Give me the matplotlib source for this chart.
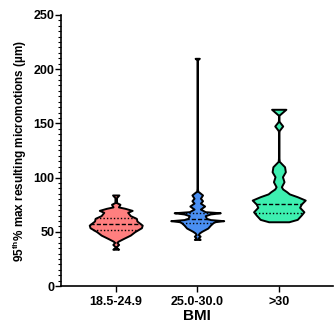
import matplotlib
matplotlib.use("Agg")
import matplotlib.pyplot as plt
import numpy as np

plt.rcParams['font.family'] = ['Liberation Sans', 'DejaVu Sans']
plt.rcParams['font.weight'] = 'bold'
plt.rcParams['mathtext.fontset'] = 'custom'
plt.rcParams['mathtext.rm'] = 'Liberation Sans:bold'
plt.rcParams['mathtext.bf'] = 'Liberation Sans:bold'

# DATA ------------------------------------------------------------------
groups = ['18.5-24.9', '25.0-30.0', '>30']
colors = ['#FF7F7F', '#4A8FF2', '#3DEFB0']

# violin outlines: micromotion level (µm) and relative half width
red_y = [34, 35.2, 36.5, 38.4, 40.3, 41.5, 44, 47, 50.2, 53.8, 56.2, 60, 62.4, 65, 68, 69.8,
         71.7, 73, 75.4, 77, 79, 81.5, 84]
red_w = [0.11, 0.04, 0.03, 0.11, 0.04, 0.1, 0.3, 0.55, 0.72, 0.97, 1.0, 0.8, 0.78, 0.55, 0.45, 0.62,
         0.35, 0.1, 0.16, 0.03, 0.03, 0.03, 0.12]

blue_y = [43, 44.5, 46, 47.5, 49, 50.5, 53.5, 56.3, 58.5, 59.4, 60.3, 61.3, 62.4, 64.9, 66.5, 67.6,
          68.6, 71, 73.8, 76.5, 78.7, 81, 84, 86, 87.5, 90, 208.5, 210]
blue_w = [0.11, 0.04, 0.11, 0.04, 0.08, 0.17, 0.4, 0.5, 0.6, 0.68, 1.0, 0.5, 0.35, 0.3, 0.5, 0.87,
          0.3, 0.12, 0.28, 0.12, 0.2, 0.12, 0.2, 0.1, 0.02, 0.01, 0.01, 0.08]

green_y = [59.3, 61.5, 65.5, 68.5, 72.6, 75.6, 79.3, 82.4, 85, 87, 89.5, 91.6, 96.2, 100.8, 105.4,
           110, 113, 115, 118, 142, 143.5, 147.6, 151.6, 153, 157.5, 163]
green_w = [0.38, 0.7, 0.85, 0.95, 0.79, 0.85, 1.0, 0.7, 0.4, 0.3, 0.15, 0.1, 0.2, 0.14, 0.25,
           0.22, 0.1, 0.02, 0.01, 0.01, 0.02, 0.15, 0.02, 0.01, 0.01, 0.27]

medians = [56.9, 61.5, 76.0]
quartiles = [[52.0, 63.0], [57.8, 67.5], [67.0]]

profiles = [(red_y, red_w), (blue_y, blue_w), (green_y, green_w)]

# PLOT ------------------------------------------------------------------
fig = plt.figure(figsize=(3.34, 3.24), dpi=100)
ax = fig.add_axes([0.183, 0.117, 0.815, 0.837])

positions = [1, 2, 3]
width = 0.65
vpstats = []
for (ys, ws), med in zip(profiles, medians):
    ys = np.array(ys, dtype=float)
    ws = np.array(ws, dtype=float)
    vpstats.append(dict(coords=ys, vals=ws, mean=med, median=med, min=ys.min(), max=ys.max()))

parts = ax.violin(vpstats, positions=positions, widths=width, showmeans=False,
                  showextrema=False, showmedians=False)
for body, c in zip(parts['bodies'], colors):
    body.set_facecolor(c)
    body.set_edgecolor('black')
    body.set_linewidth(1.4)
    body.set_alpha(1)

# median (dashed) and quartile (dotted) lines, clipped to the outline
for pos, (ys, ws), med, qs in zip(positions, profiles, medians, quartiles):
    half = np.interp(med, ys, ws) * width / 2
    ax.hlines(med, pos - half, pos + half, colors='black', linestyles=(0, (3, 1.5)), linewidth=1)
    for q in qs:
        half = np.interp(q, ys, ws) * width / 2
        ax.hlines(q, pos - half, pos + half, colors='black', linestyles=(0, (1, 1.5)), linewidth=1)

ax.set_xlim(0.33, 3.67)
ax.set_ylim(0, 250)
ax.set_xticks(positions)
ax.set_xticklabels(groups, fontsize=9, fontweight='bold')
ax.set_yticks(np.arange(0, 251, 50))
ax.set_yticks(np.arange(0, 251, 5), minor=True)
ax.tick_params(axis='y', labelsize=9, width=1, length=4, pad=1)
ax.tick_params(axis='y', which='minor', width=0.8, length=2)
ax.tick_params(axis='x', width=1, length=4, pad=3)
for lab in ax.get_yticklabels():
    lab.set_fontweight('bold')

for s in ['top', 'right']:
    ax.spines[s].set_visible(False)
for s in ['left', 'bottom']:
    ax.spines[s].set_linewidth(1.2)

ax.set_xlabel('BMI', fontsize=11, fontweight='bold', labelpad=1)
ax.set_ylabel('95$^{\\mathrm{th}}$% max resulting micromotions (µm)', fontsize=8.5,
              fontweight='bold', labelpad=3)

fig.savefig('out.png', dpi=100)
